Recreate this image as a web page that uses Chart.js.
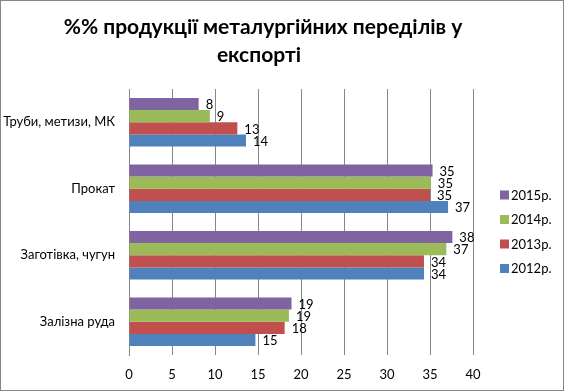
<!DOCTYPE html>
<html>
<head>
<meta charset="utf-8">
<script src="https://cdn.jsdelivr.net/npm/chart.js@4/dist/chart.umd.min.js"></script>
<style>
  body { margin: 0; background: #fff; }
  #box { width: 562px; height: 389px; border: 1px solid #868686; }
</style>
</head>
<body>
<div id="box"><canvas id="myChart" width="562" height="389"></canvas></div>
<script>
// categories top to bottom
var categories = ['Труби, метизи, МК', 'Прокат', 'Заготівка, чугун', 'Залізна руда']
var years = ['2015р.', '2014р.', '2013р.', '2012р.']
var values2015 = [8.1, 35.3, 37.6, 18.9]
var values2014 = [9.4, 35.1, 36.9, 18.6]
var values2013 = [12.6, 35.0, 34.3, 18.1]
var values2012 = [13.6, 37.1, 34.3, 14.7]
var colors = ['#8064A2', '#9BBB59', '#C0504D', '#4F81BD']
var xTicks = [0, 5, 10, 15, 20, 25, 30, 35, 40]
var titleLines = ['%% продукції металургійних переділів у', 'експорті']

var series = [values2015, values2014, values2013, values2012]
var FONT = 'Lato, Carlito, "Open Sans", sans-serif'

// value labels at the end of each bar
const barLabels = {
    id: 'barLabels',
    afterDatasetsDraw(chart) {
        const ctx = chart.ctx
        ctx.save()
        ctx.font = '13px ' + FONT
        ctx.fillStyle = '#000'
        ctx.textBaseline = 'middle'
        ctx.textAlign = 'left'
        chart.data.datasets.forEach((ds, i) => {
            chart.getDatasetMeta(i).data.forEach((bar, j) => {
                ctx.fillText(Math.round(ds.data[j]), bar.x + 7, bar.y + 1)
            })
        })
        ctx.restore()
    }
}

// title (centred a bit left like the original) and legend on the right
const decor = {
    id: 'decor',
    afterDraw(chart) {
        const ctx = chart.ctx
        ctx.save()
        ctx.fillStyle = '#000'
        ctx.font = 'bold 21px ' + FONT
        ctx.textAlign = 'center'
        ctx.textBaseline = 'alphabetic'
        ctx.fillText(titleLines[0], 262, 33)
        ctx.fillText(titleLines[1], 258, 61)

        ctx.font = '13px ' + FONT
        ctx.textAlign = 'left'
        ctx.textBaseline = 'middle'
        chart.data.datasets.forEach((ds, i) => {
            const y = 194 + i * 24.5
            ctx.fillStyle = ds.backgroundColor
            ctx.fillRect(499, y - 4.5, 9, 9)
            ctx.fillStyle = '#000'
            ctx.fillText(ds.label, 510, y + 0.5)
        })
        ctx.restore()
    }
}

const ctx = document.getElementById('myChart')
new Chart(ctx, {
    type: 'bar',
    data: {
        labels: categories,
        datasets: years.map((y, i) => ({
            label: y,
            data: series[i],
            backgroundColor: colors[i],
            borderWidth: 0,
            categoryPercentage: 0.73,
            barPercentage: 1.0
        }))
    },
    options: {
        indexAxis: 'y',
        responsive: false,
        animation: false,
        layout: { padding: { left: 0, right: 90, top: 88, bottom: 0 } },
        plugins: {
            title: { display: false },
            legend: { display: false },
            tooltip: { enabled: false }
        },
        scales: {
            x: {
                min: 0,
                max: 40,
                afterBuildTicks: (s) => { s.ticks = xTicks.map(v => ({ value: v })) },
                afterFit: (s) => { s.height = 35 },
                ticks: { font: { family: FONT, size: 13 }, color: '#000', padding: 12 },
                grid: { color: '#868686', drawTicks: false },
                border: { display: false }
            },
            y: {
                afterFit: (s) => { s.width = 128 },
                ticks: { font: { family: FONT, size: 13 }, color: '#000', padding: 6 },
                grid: { display: false },
                border: { display: true, color: '#868686' }
            }
        }
    },
    plugins: [barLabels, decor]
})
</script>
</body>
</html>
